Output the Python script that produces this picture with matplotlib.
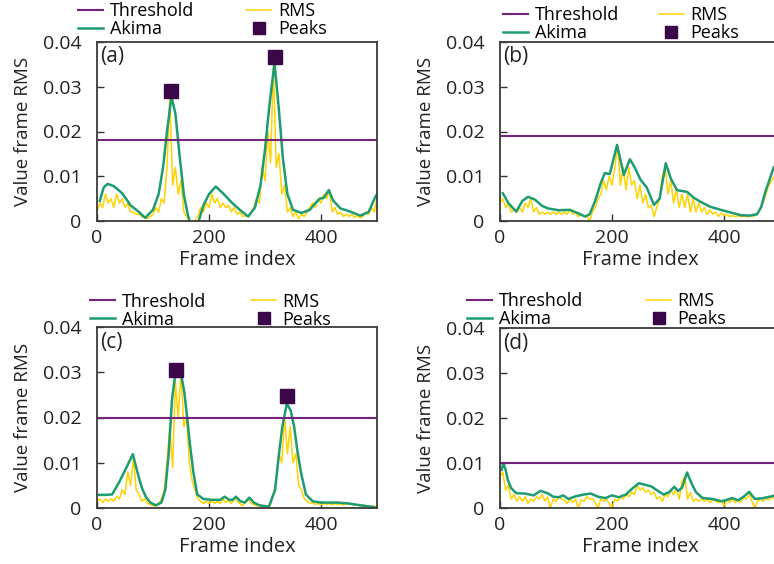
import numpy as np
import matplotlib
matplotlib.use("Agg")
import matplotlib.pyplot as plt

plt.rcParams['font.family'] = ['Open Sans', 'DejaVu Sans']

# ---- data ----
rms_frames = np.arange(0, 501, 5)

# panel (a)
rms_a = [0.002, 0.004, 0.003, 0.006, 0.004, 0.005, 0.003, 0.006, 0.004, 0.005,
         0.003, 0.004, 0.002, 0.002, 0.0015, 0.0015, 0.001, 0.0008, 0.0005, 0.001,
         0.0015, 0.003, 0.002, 0.005, 0.004, 0.012, 0.028, 0.008, 0.012, 0.006,
         0.009, 0.002, 0.001, 0.0, 0.0, 0.0, 0.001, 0.003, 0.002, 0.004,
         0.003, 0.006, 0.004, 0.005, 0.003, 0.004, 0.003, 0.0035, 0.002, 0.003,
         0.0015, 0.002, 0.001, 0.0012, 0.001, 0.002, 0.003, 0.005, 0.004, 0.012,
         0.009, 0.02, 0.013, 0.035, 0.012, 0.015, 0.006, 0.008, 0.002, 0.003,
         0.001, 0.002, 0.0005, 0.0015, 0.001, 0.002, 0.003, 0.004, 0.003, 0.005,
         0.004, 0.006, 0.005, 0.007, 0.002, 0.003, 0.0015, 0.002, 0.001, 0.0015,
         0.001, 0.0015, 0.0008, 0.0012, 0.0007, 0.001, 0.002, 0.0015, 0.003, 0.002,
         0.005]
akima_a_frames = [5, 12, 19, 30, 45, 60, 75, 86, 100, 110, 118, 125, 133, 140, 148,
                  155, 162, 166, 181, 190, 200, 212, 225, 240, 255, 270, 282, 292,
                  300, 308, 317, 324, 332, 340, 350, 365, 380, 390, 398, 405, 414,
                  422, 435, 450, 470, 485, 497, 500]
akima_a = [0.0045, 0.0075, 0.0083, 0.0078, 0.0062, 0.0035, 0.002, 0.0007, 0.0025,
           0.006, 0.012, 0.02, 0.0278, 0.024, 0.014, 0.006, 0.0015, -0.0003, -0.0003,
           0.0035, 0.006, 0.0077, 0.0062, 0.0042, 0.0025, 0.001, 0.003, 0.008, 0.016,
           0.026, 0.0353, 0.026, 0.014, 0.006, 0.0025, 0.0018, 0.0025, 0.004, 0.005,
           0.0052, 0.0069, 0.0045, 0.0028, 0.0022, 0.0012, 0.002, 0.0054, 0.006]
peaks_a_frames = [132, 317]
peaks_a = [0.0291, 0.0366]
threshold_a = 0.018

# panel (b)
rms_b = [0.004, 0.005, 0.003, 0.004, 0.002, 0.0025, 0.002, 0.003, 0.002, 0.004,
         0.003, 0.005, 0.002, 0.003, 0.0015, 0.002, 0.0015, 0.002, 0.0015, 0.002,
         0.0015, 0.002, 0.0015, 0.002, 0.0015, 0.0025, 0.0015, 0.002, 0.001, 0.0015,
         0.001, 0.0012, 0.0, 0.002, 0.003, 0.005, 0.006, 0.009, 0.007, 0.01,
         0.008, 0.012, 0.017, 0.008, 0.012, 0.007, 0.012, 0.008, 0.009, 0.005,
         0.008, 0.004, 0.006, 0.003, 0.0035, 0.001, 0.003, 0.005, 0.01, 0.012,
         0.006, 0.009, 0.004, 0.007, 0.003, 0.006, 0.003, 0.006, 0.002, 0.005,
         0.002, 0.004, 0.002, 0.003, 0.0015, 0.0025, 0.0015, 0.002, 0.001, 0.0018,
         0.0012, 0.0015, 0.001, 0.0012, 0.001, 0.0012, 0.001, 0.001, 0.001, 0.001,
         0.001, 0.0012, 0.0015, 0.003, 0.004, 0.006, 0.008, 0.009, 0.01, 0.011,
         0.012]
akima_b_frames = [5, 15, 29, 40, 50, 62, 75, 86, 105, 125, 140, 152, 160, 170, 180,
                  187, 196, 209, 221, 232, 240, 251, 262, 275, 285, 296, 305, 316,
                  334, 346, 358, 375, 394, 412, 430, 445, 459, 466, 474, 482, 489, 500]
akima_b = [0.0062, 0.004, 0.0021, 0.0045, 0.0054, 0.0048, 0.0034, 0.0028, 0.0024,
           0.0025, 0.0017, 0.001, 0.0015, 0.0045, 0.0085, 0.0107, 0.0105, 0.017,
           0.0103, 0.0138, 0.0121, 0.0092, 0.0075, 0.0036, 0.005, 0.0129, 0.0095,
           0.0069, 0.0065, 0.0052, 0.0043, 0.0032, 0.0025, 0.0019, 0.0013, 0.0012,
           0.0015, 0.003, 0.0066, 0.0095, 0.0121, 0.013]
peaks_b_frames = []
peaks_b = []
threshold_b = 0.019

# panel (c)
rms_c = [0.0015, 0.002, 0.0012, 0.002, 0.0015, 0.002, 0.0015, 0.0025, 0.002, 0.004,
         0.003, 0.008, 0.005, 0.011, 0.004, 0.003, 0.0015, 0.002, 0.001, 0.0008,
         0.0005, 0.0005, 0.0008, 0.002, 0.004, 0.01, 0.018, 0.009, 0.028, 0.02,
         0.03, 0.018, 0.02, 0.01, 0.006, 0.004, 0.002, 0.0015, 0.001, 0.0015,
         0.001, 0.0015, 0.001, 0.0015, 0.001, 0.002, 0.0012, 0.0018, 0.001, 0.002,
         0.0015, 0.001, 0.0005, 0.0015, 0.002, 0.001, 0.0008, 0.0005, 0.0005, 0.0003,
         0.0003, 0.0003, 0.0008, 0.003, 0.006, 0.012, 0.01, 0.02, 0.012, 0.018,
         0.01, 0.012, 0.005, 0.004, 0.002, 0.0015, 0.001, 0.0012, 0.0008, 0.001,
         0.0007, 0.001, 0.0008, 0.001, 0.0007, 0.001, 0.0008, 0.0009, 0.0007, 0.001,
         0.0008, 0.0009, 0.0006, 0.0007, 0.0005, 0.0006, 0.0004, 0.0005, 0.0003, 0.0004,
         0.0003]
akima_c_frames = [3, 15, 27, 40, 52, 64, 72, 80, 87, 95, 105, 115, 122, 128, 134, 140,
                  146, 151, 156, 161, 166, 172, 179, 190, 205, 220, 228, 236, 242,
                  248, 256, 264, 272, 280, 290, 307, 318, 325, 331, 339, 346, 352,
                  358, 364, 373, 385, 400, 430, 450, 470, 495]
akima_c = [0.0029, 0.0029, 0.003, 0.0058, 0.0088, 0.0119, 0.008, 0.0045, 0.0025,
           0.0012, 0.0006, 0.0012, 0.004, 0.012, 0.024, 0.0298, 0.0302, 0.029,
           0.0255, 0.02, 0.014, 0.008, 0.003, 0.002, 0.0018, 0.0018, 0.0025, 0.0018,
           0.0018, 0.0025, 0.0015, 0.0012, 0.0023, 0.0012, 0.0006, 0.0003, 0.004,
           0.012, 0.018, 0.0231, 0.0215, 0.018, 0.0125, 0.008, 0.003, 0.0015, 0.0012,
           0.0012, 0.001, 0.0006, 0.0002]
peaks_c_frames = [141, 340]
peaks_c = [0.0306, 0.0247]
threshold_c = 0.02

# panel (d)
rms_d = [0.007, 0.008, 0.004, 0.005, 0.002, 0.003, 0.0015, 0.0025, 0.0015, 0.0025,
         0.001, 0.002, 0.0015, 0.0025, 0.002, 0.003, 0.0015, 0.0025, 0.0, 0.002,
         0.0015, 0.0025, 0.002, 0.0018, 0.001, 0.002, 0.0012, 0.002, 0.0, 0.0018,
         0.0015, 0.0025, 0.002, 0.002, 0.0012, 0.0, 0.002, 0.0015, 0.002, 0.001,
         0.0, 0.002, 0.0015, 0.0025, 0.002, 0.003, 0.0025, 0.0035, 0.003, 0.005,
         0.004, 0.0045, 0.0035, 0.004, 0.003, 0.0035, 0.002, 0.0025, 0.0015, 0.003,
         0.0025, 0.004, 0.003, 0.0045, 0.002, 0.006, 0.007, 0.002, 0.0035, 0.0015,
         0.002, 0.0015, 0.002, 0.0015, 0.002, 0.0012, 0.0018, 0.0015, 0.0012, 0.0015,
         0.0005, 0.0018, 0.0012, 0.002, 0.0012, 0.0018, 0.0012, 0.0025, 0.002, 0.003,
         0.0015, 0.0, 0.0015, 0.002, 0.0015, 0.0022, 0.0018, 0.0025, 0.002, 0.0028,
         0.003]
akima_d_frames = [3, 6, 10, 14, 20, 29, 45, 60, 72, 85, 95, 105, 113, 122, 135, 150,
                  162, 175, 188, 200, 212, 225, 235, 248, 258, 270, 282, 292, 302,
                  311, 318, 325, 334, 342, 350, 362, 380, 395, 405, 415, 425, 435,
                  445, 455, 470, 485, 500]
akima_d = [0.0085, 0.01, 0.0085, 0.0062, 0.0044, 0.0033, 0.0032, 0.0028, 0.0038,
           0.0033, 0.0025, 0.0024, 0.0028, 0.002, 0.0026, 0.003, 0.0032, 0.0025,
           0.0022, 0.0028, 0.0024, 0.003, 0.0042, 0.0055, 0.0052, 0.0048, 0.0038,
           0.003, 0.0035, 0.0047, 0.0038, 0.0045, 0.0079, 0.0055, 0.0035, 0.0022,
           0.002, 0.0015, 0.0018, 0.0022, 0.0017, 0.0025, 0.0036, 0.002, 0.0022,
           0.0026, 0.0032]
peaks_d_frames = []
peaks_d = []
threshold_d = 0.01

yticks = [0, 0.01, 0.02, 0.03, 0.04]
ytick_labels = ['0', '0.01', '0.02', '0.03', '0.04']
xticks = [0, 200, 400]

C_THR = '#72237a'
C_AKIMA = '#1c9c70'
C_RMS = '#ffd200'
C_PEAK = '#3a0849'

panels = [
    ('(a)', rms_a, akima_a_frames, akima_a, peaks_a_frames, peaks_a, threshold_a),
    ('(b)', rms_b, akima_b_frames, akima_b, peaks_b_frames, peaks_b, threshold_b),
    ('(c)', rms_c, akima_c_frames, akima_c, peaks_c_frames, peaks_c, threshold_c),
    ('(d)', rms_d, akima_d_frames, akima_d, peaks_d_frames, peaks_d, threshold_d),
]

W, H = 774, 564
# axes boxes in pixels: left, top, right, bottom (right panels run past the edge)
boxes = [(97, 42, 377, 221), (500, 42, 780, 221),
         (97, 327, 377, 508), (500, 328, 780, 508)]
# legend anchor (axes fraction) and column spacing
legend_pos = [((-0.068, 1.02), 2.9), ((0.011, 1.0), 2.2),
              ((-0.025, 0.99), 2.5), ((-0.118, 1.0), 3.5)]

fig = plt.figure(figsize=(W / 100, H / 100), dpi=100)

for (name, rms, af, av, pf, pv, thr), (l, t, r, b), (anchor, colsp) in zip(panels, boxes, legend_pos):
    ax = fig.add_axes([l / W, 1 - b / H, (r - l) / W, (b - t) / H])
    h_rms, = ax.plot(rms_frames, rms, color=C_RMS, lw=1.1)
    h_ak, = ax.plot(af, av, color=C_AKIMA, lw=1.8)
    h_thr = ax.axhline(thr, color=C_THR, lw=1.5)
    h_pk, = ax.plot(pf, pv, 's', color=C_PEAK, ms=10, zorder=5)

    ax.set_xlim(0, 500)
    ax.set_ylim(0, 0.04)
    ax.set_yticks(yticks)
    ax.set_yticklabels(ytick_labels)
    ax.set_xticks(xticks)
    ax.tick_params(axis='both', direction='in', length=5, width=1, labelsize=14,
                   colors='#333333', labelcolor='#222222')
    ax.tick_params(axis='y', pad=11)
    ax.tick_params(axis='x', pad=6)
    for sp in ax.spines.values():
        sp.set_color('#3a3a3a')
        sp.set_linewidth(1.3)

    ax.set_xlabel('Frame index', fontsize=14.5, labelpad=2, color='#222222')
    ax.set_ylabel('Value frame RMS', fontsize=13.5, labelpad=8, color='#222222')
    ax.text(0.012, 0.975, name, transform=ax.transAxes, ha='left', va='top',
            fontsize=15, color='#222222')

    ax.legend([h_thr, h_ak, h_rms, h_pk], ['Threshold', 'Akima', 'RMS', 'Peaks'],
              ncol=2, loc='lower left', bbox_to_anchor=anchor, frameon=False,
              fontsize=13, handlelength=1.4, handletextpad=0.35,
              labelspacing=0.0, columnspacing=colsp, borderpad=0,
              borderaxespad=0, markerscale=0.9)

fig.savefig('out.png', dpi=100)
